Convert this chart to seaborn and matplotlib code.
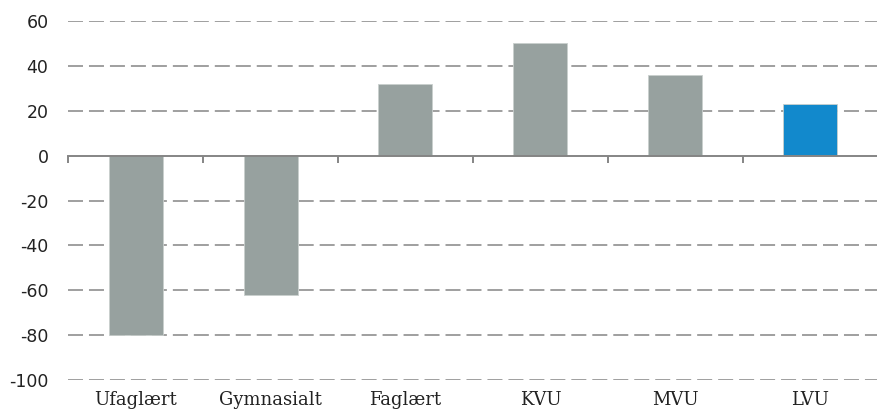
import pandas as pd
import seaborn as sns
import matplotlib.pyplot as plt
from matplotlib.ticker import FixedLocator, NullFormatter

# Values
categories = ['Ufaglært', 'Gymnasialt', 'Faglært', 'KVU', 'MVU', 'LVU']
values = [-80, -62, 32, 50, 36, 23]
bar_colors = ['#97a19f', '#97a19f', '#97a19f', '#97a19f', '#97a19f', '#1289cc']
y_ticks = [-100, -80, -60, -40, -20, 0, 20, 40, 60]

df = pd.DataFrame({'group': categories, 'value': values})

sns.set_style('white')
fig = plt.figure(figsize=(8.78, 4.17), dpi=100)
ax = fig.add_axes([68 / 878, 1 - 380 / 417, 1 - 68 / 878, (380 - 21) / 417])

sns.barplot(data=df, x='group', y='value', hue='group', palette=bar_colors,
            order=categories, hue_order=categories, legend=False,
            width=0.4, saturation=1, edgecolor='#c9cfcd', linewidth=0.6,
            zorder=3, ax=ax)

ax.set_xlim(-0.5, len(categories) - 0.5)
ax.set_ylim(-100, 60)
ax.set_xlabel('')
ax.set_ylabel('')

# dashed horizontal gridlines (not at zero, where the axis line is)
lw = 1.1
for t in y_ticks:
    if t != 0:
        ax.axhline(t, color='#858585', linewidth=lw,
                   linestyle=(0, (10.8 / lw, 4.3 / lw)), zorder=1)

ax.set_yticks(y_ticks)
ax.set_yticklabels([str(t) for t in y_ticks], fontsize=12.5, color='#222222',
                   family='DejaVu Sans')
ax.tick_params(axis='y', length=0, pad=14)

for side in ['top', 'right', 'left']:
    ax.spines[side].set_visible(False)
ax.spines['bottom'].set_position(('data', 0))
ax.spines['bottom'].set_color('#858585')
ax.spines['bottom'].set_linewidth(1.4)
ax.spines['bottom'].set_zorder(4)

# tick marks between categories on the zero line
ax.xaxis.set_minor_locator(FixedLocator([i - 0.5 for i in range(len(categories) + 1)]))
ax.xaxis.set_minor_formatter(NullFormatter())
ax.tick_params(axis='x', which='minor', bottom=True, length=5, width=1.4,
               color='#858585', direction='out')
ax.tick_params(axis='x', which='major', length=0, labelbottom=False)

# category labels at the bottom of the plot area
sec = ax.secondary_xaxis('bottom')
sec.set_xticks(range(len(categories)))
sec.set_xticklabels(categories, fontsize=13, color='#222222', family='DejaVu Serif')
sec.tick_params(length=0, pad=8)
sec.spines['bottom'].set_visible(False)

plt.savefig('out.png', dpi=100)
